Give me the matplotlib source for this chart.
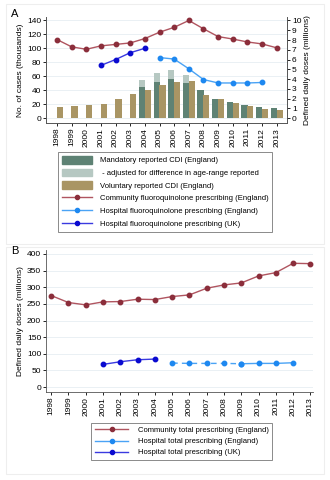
import matplotlib
matplotlib.use("Agg")
import matplotlib.pyplot as plt
import numpy as np
from matplotlib.patches import Rectangle

years = np.arange(1998, 2014)

# Panel A: CDI cases (thousands)
voluntary_cdi = [16, 17, 19, 20.5, 27, 34, 41, 47, 52, 53.5, 33, 27, 21, 18, 13, 12]
mand_years = np.arange(2004, 2014)
mandatory_cdi = [45, 52, 56, 51, 41, 28, 23, 19.5, 15.5, 14]
adj_years = np.arange(2004, 2008)
adjusted_cdi = [55, 65, 69, 62]

# Panel A: fluoroquinolone prescribing (DDD, millions)
comm_fq = [8.05, 7.3, 7.05, 7.4, 7.55, 7.7, 8.15, 8.8, 9.3, 10.0, 9.15, 8.35, 8.1, 7.8, 7.6, 7.2]
hosp_uk_years = np.arange(2001, 2005)
hosp_uk_fq = [5.4, 6.0, 6.7, 7.15]
hosp_en_years = np.arange(2005, 2013)
hosp_en_fq = [6.2, 6.05, 5.05, 3.95, 3.6, 3.6, 3.6, 3.65]

# Panel B: total prescribing (DDD, millions)
comm_total = [275, 254, 247, 256, 257, 264, 263, 272, 277, 297, 307, 313, 334, 344, 372, 371]
hosp_uk_total = [68, 76, 82, 84]
hosp_en_total = [72, 71, 71, 71, 70, 71, 71, 73]

C_MAND = "#5e8274"
C_ADJ = "#b6c8c2"
C_VOL = "#a99564"
C_COMM = "#8b2e3b"
C_COMM_LINE = "#b05560"
C_HEN = "#1e88f0"
C_HEN_LINE = "#4aa3f5"
C_HUK = "#0a0ad0"
C_HUK_LINE = "#3a3ae0"
GRID = "#e6eef2"

plt.rcParams["font.family"] = ["Liberation Sans", "DejaVu Sans"]
plt.rcParams["font.size"] = 6

W, H = 330, 480
fig = plt.figure(figsize=(W / 100, H / 100), dpi=100)
fig.patch.set_facecolor("white")


def fr(x0, y0, x1, y1):
    # pixel box (top-left origin) -> figure fraction rect
    return [x0 / W, (H - y1) / H, (x1 - x0) / W, (y1 - y0) / H]


for y0, y1 in [(4, 244), (247, 474)]:
    fig.patches.append(Rectangle((6 / W, (H - y1) / H), 318 / W, (y1 - y0) / H,
                                 transform=fig.transFigure, fill=False,
                                 edgecolor="#eeeeee", lw=0.8))

# ---------------- Panel A ----------------
ax = fig.add_axes(fr(46, 17, 287, 123))
ax.set_xlim(1997.25, 2013.7)
ax.set_ylim(-7, 145)
bw = 0.42
ax.bar(adj_years - 0.2, adjusted_cdi, width=bw, color=C_ADJ, zorder=2)
ax.bar(mand_years - 0.2, mandatory_cdi, width=bw, color=C_MAND, zorder=3)
ax.bar(years + 0.2, voluntary_cdi, width=bw, color=C_VOL, zorder=3)
ax.set_yticks(range(0, 141, 20))
ax.set_xticks(years)
ax.set_xticklabels([str(y) for y in years], rotation=90)
ax.set_ylabel("No. of cases (thousands)", labelpad=2)
ax.grid(axis="y", color=GRID, lw=0.6, zorder=0)
ax.set_axisbelow(True)
ax.spines["top"].set_visible(False)
ax.tick_params(length=2, width=0.6, pad=1.5)
for s in ax.spines.values():
    s.set_linewidth(0.6)
    s.set_color("#555555")

ax2 = ax.twinx()
ax2.set_ylim(-7 / 14, 145 / 14)
ax2.set_yticks(range(0, 11))
ax2.plot(years, comm_fq, color=C_COMM_LINE, lw=1, marker="o", ms=3.2,
         mfc=C_COMM, mec=C_COMM, zorder=4)
ax2.plot(hosp_uk_years, hosp_uk_fq, color=C_HUK_LINE, lw=1, marker="o", ms=3.2,
         mfc=C_HUK, mec=C_HUK, zorder=4)
ax2.plot(hosp_en_years, hosp_en_fq, color=C_HEN_LINE, lw=1, marker="o", ms=3.2,
         mfc=C_HEN, mec=C_HEN, zorder=4)
ax2.set_ylabel("Defined daily doses (millions)", labelpad=2)
ax2.spines["top"].set_visible(False)
ax2.tick_params(length=2, width=0.6, pad=1.5)
for s in ax2.spines.values():
    s.set_linewidth(0.6)
    s.set_color("#555555")

fig.text(11 / W, (H - 14) / H, "A", fontsize=8, va="center")

hA = [
    Rectangle((0, 0), 1, 1, color=C_MAND),
    Rectangle((0, 0), 1, 1, color=C_ADJ),
    Rectangle((0, 0), 1, 1, color=C_VOL),
    plt.Line2D([], [], color=C_COMM_LINE, lw=1, marker="o", ms=3, mfc=C_COMM, mec=C_COMM),
    plt.Line2D([], [], color=C_HEN_LINE, lw=1, marker="o", ms=3, mfc=C_HEN, mec=C_HEN),
    plt.Line2D([], [], color=C_HUK_LINE, lw=1, marker="o", ms=3, mfc=C_HUK, mec=C_HUK),
]
lA = [
    "Mandatory reported CDI (England)",
    " - adjusted for difference in age-range reported",
    "Voluntary reported CDI (England)",
    "Community fluoroquinolone prescribing (England)",
    "Hospital fluoroquinolone prescribing (England)",
    "Hospital fluoroquinolone prescribing (UK)",
]
leg = fig.legend(hA, lA, loc="upper left", bbox_to_anchor=(58 / W, (H - 152) / H),
                 fancybox=False, edgecolor="#777777", framealpha=1, fontsize=5.5,
                 handlelength=4.0, handleheight=1.2, labelspacing=0.55,
                 borderpad=0.5, handletextpad=1.0, borderaxespad=0)
leg.get_frame().set_linewidth(0.6)

# ---------------- Panel B ----------------
bx = fig.add_axes(fr(46, 250, 313, 392))
bx.set_xlim(1997.7, 2013.15)
bx.set_ylim(-15, 412)
bx.plot(years, comm_total, color=C_COMM_LINE, lw=1, marker="o", ms=3.2,
        mfc=C_COMM, mec=C_COMM, zorder=4)
bx.plot(hosp_uk_years, hosp_uk_total, color=C_HUK_LINE, lw=1, marker="o", ms=3.2,
        mfc=C_HUK, mec=C_HUK, zorder=4)
# 2005-2009 dashed, 2009-2012 solid
bx.plot(hosp_en_years[:5], hosp_en_total[:5], color=C_HEN_LINE, lw=1, ls=(0, (4, 3)),
        marker="o", ms=3.2, mfc=C_HEN, mec=C_HEN, zorder=4)
bx.plot(hosp_en_years[4:], hosp_en_total[4:], color=C_HEN_LINE, lw=1,
        marker="o", ms=3.2, mfc=C_HEN, mec=C_HEN, zorder=4)
bx.set_yticks(range(0, 401, 50))
bx.set_xticks(years)
bx.set_xticklabels([str(y) for y in years], rotation=90)
bx.set_ylabel("Defined daily doses (millions)", labelpad=2)
bx.grid(axis="y", color=GRID, lw=0.6, zorder=0)
bx.set_axisbelow(True)
bx.spines["top"].set_visible(False)
bx.spines["right"].set_visible(False)
bx.tick_params(length=2, width=0.6, pad=1.5)
for s in bx.spines.values():
    s.set_linewidth(0.6)
    s.set_color("#555555")

fig.text(11 / W, (H - 251) / H, "B", fontsize=8, va="center")

hB = [
    plt.Line2D([], [], color=C_COMM_LINE, lw=1, marker="o", ms=3, mfc=C_COMM, mec=C_COMM),
    plt.Line2D([], [], color=C_HEN_LINE, lw=1, marker="o", ms=3, mfc=C_HEN, mec=C_HEN),
    plt.Line2D([], [], color=C_HUK_LINE, lw=1, marker="o", ms=3, mfc=C_HUK, mec=C_HUK),
]
lB = [
    "Community total prescribing (England)",
    "Hospital total prescribing (England)",
    "Hospital total prescribing (UK)",
]
legB = fig.legend(hB, lB, loc="upper left", bbox_to_anchor=(91 / W, (H - 423) / H),
                  fancybox=False, edgecolor="#777777", framealpha=1, fontsize=5.5,
                  handlelength=4.4, labelspacing=0.5, borderpad=0.5,
                  handletextpad=1.2, borderaxespad=0)
legB.get_frame().set_linewidth(0.6)

fig.savefig("out.png", dpi=100, facecolor="white")
